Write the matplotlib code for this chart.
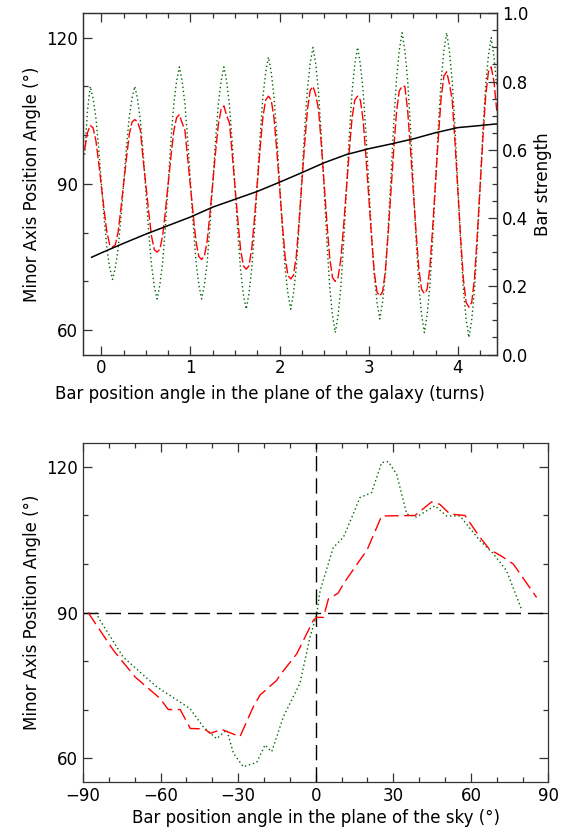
import numpy as np
import matplotlib
matplotlib.use("Agg")
import matplotlib.pyplot as plt
from matplotlib.ticker import MultipleLocator, FuncFormatter

# ---- data: top panel (turns sampled every 1/32 turn) ----
turns = np.arange(-6, 143) / 32.0
pa_red = [97, 100.5,
          102, 101.5, 99, 94.5, 89.5, 84.5, 80, 77.5,
          77, 77.5, 80.1, 84.9, 90.1, 95.3, 100.1, 102.7,
          103.2, 102.7, 101, 95, 89.6, 84.2, 79.3, 76.5,
          76, 76.6, 79.4, 84.5, 90.1, 95.7, 100.8, 103.6,
          104.2, 102.5, 101, 95.3, 89.4, 83.5, 78.1, 75.1,
          74.5, 75.2, 78.3, 84, 90.2, 96.5, 102.2, 105.3,
          106, 104, 102.5, 96, 89.2, 82.6, 76.5, 73.2,
          72.5, 73.2, 76.7, 83.1, 90.2, 97.3, 103.7, 107.2,
          108, 107.2, 103.5, 96.8, 89.2, 81.8, 75, 71.2,
          70.5, 71.3, 75.2, 82.3, 90.2, 98.2, 105.2, 109.2,
          110, 108.2, 105.2, 98, 90, 82, 74.8, 70.8,
          70, 70.8, 74.6, 81.4, 89, 96.6, 103.4, 107.2,
          108, 107.2, 103.1, 95.7, 87.5, 79.3, 71.9, 67.8,
          67, 67.9, 72.2, 79.9, 88.5, 97.1, 104.8, 109.1,
          110, 110, 105, 97.2, 88.8, 80.2, 72.6, 68.4,
          67.5, 68.4, 73, 81.2, 90.2, 99.4, 107.5, 112.1,
          113, 110.5, 107.2, 98.5, 88.8, 79.2, 70.5, 65.7,
          64.7, 65.7, 70.6, 79.5, 89.3, 99.2, 108, 113,
          114, 111, 105]
pa_green = [96, 105,
            110, 107.6, 103.7, 97.5, 90.2, 82.9, 76.7, 72.8,
            70.4, 72.8, 76.7, 82.9, 90.2, 97.5, 103.7, 107.6,
            110, 107.4, 103, 96.3, 88.2, 80.1, 73.4, 69,
            66.4, 69.3, 74, 81.4, 90.2, 99, 106.4, 111.1,
            114, 111.1, 106.4, 99, 90.2, 81.4, 74, 69.3,
            66.4, 69.3, 74, 81.4, 90.2, 99, 106.4, 111.1,
            114, 111.1, 106.1, 98.4, 89.2, 80, 72.3, 67.3,
            64.3, 67.5, 72.6, 80.6, 90.2, 99.8, 107.8, 112.9,
            116, 112.9, 107.8, 99.8, 90.2, 80.6, 72.6, 67.5,
            64.3, 67.6, 72.9, 81.3, 91.2, 101.1, 109.4, 114.8,
            118, 114.5, 108.7, 99.6, 88.8, 78, 68.9, 63,
            59.5, 63, 68.9, 78, 88.8, 99.6, 108.7, 114.5,
            118, 114.6, 109, 100.5, 90.2, 79.9, 71.2, 65.6,
            62.3, 65.8, 71.7, 80.8, 91.6, 102.5, 111.6, 117.5,
            121, 117.3, 111.2, 101.6, 90.2, 78.9, 69.3, 63.2,
            59.5, 63.2, 69.3, 78.9, 90.2, 101.6, 111.2, 117.3,
            121, 117.2, 111, 101.4, 89.8, 78.2, 68.5, 62.2,
            58.5, 62.1, 68.3, 77.8, 89.2, 100.6, 110.2, 116.3,
            120, 116, 110]

bs_turns = [-0.11, 0, 0.25, 0.5, 0.75, 1.0, 1.25, 1.5, 1.75, 2.0,
            2.25, 2.5, 2.75, 3.0, 3.25, 3.5, 3.75, 4.0, 4.25, 4.44]
bar_strength = [0.285, 0.298, 0.326, 0.353, 0.378, 0.403, 0.432, 0.455, 0.478, 0.505,
                0.533, 0.562, 0.586, 0.603, 0.617, 0.632, 0.650, 0.665, 0.671, 0.676]

# ---- data: bottom panel ----
sky_red = [-88, -78.2, -69.8, -60.2, -57, -52.4, -48.5, -43, -40.8, -36.3,
           -29.3, -24.1, -21.5, -15.1, -13.8, -7.3, -0.9, 0.4, 3, 4.9,
           8.7, 10.7, 18.4, 19.7, 25.5, 38.4, 44.8, 48, 51.9, 57.7,
           63.5, 67.4, 71.3, 76.4, 85.4]
pa_sky_red = [90, 82.2, 76.7, 72.3, 70, 70, 66.1, 66, 65.1, 65.9,
              64.4, 70.6, 73, 76, 77.1, 81.5, 88.4, 89, 89, 92.8,
              94, 95.9, 101.8, 102.7, 109.9, 110, 112.8, 112.3, 110.3, 110,
              105.5, 102.9, 101.8, 100, 93.1]

sky_green = [-85, -83.4, -74.4, -61.5, -48.6, -43.4, -38.3, -34.4, -31.8, -28,
             -22.8, -19.6, -17, -12.5, -8.7, -6.1, -2.2, 0.4, 1.7, 6.8,
             10.7, 14.5, 17.1, 21.6, 25.5, 28.1, 31.3, 35.2, 39, 46.1,
             50.6, 55.8, 63.5, 68.7, 73.8, 79.6]
pa_sky_green = [90, 88.4, 80.8, 74.7, 70.2, 66.4, 64, 65.8, 61, 58.2,
                59.1, 62.7, 61.3, 68.5, 72.6, 75.4, 84.9, 89.7, 94.5, 103.4,
                105.5, 110.3, 113.7, 114.7, 120.9, 121.1, 118.5, 110.3, 109.7, 112,
                109.9, 109.9, 104.8, 102.1, 98.6, 90.6]

RED = "#ff0000"
GREEN = "#006400"
FS = 12

plt.rcParams["font.family"] = ["DejaVu Sans"]
plt.rcParams["axes.unicode_minus"] = True

fig = plt.figure(figsize=(5.64, 8.35), dpi=100)

def style_axis(ax):
    for s in ax.spines.values():
        s.set_linewidth(0.9)
        s.set_color("#333333")
    ax.tick_params(which="both", direction="in", labelsize=FS, color="#333333", width=0.9)
    ax.tick_params(which="major", length=6.5)
    ax.tick_params(which="minor", length=3.3)

minus_fmt = FuncFormatter(lambda v, p: f"{v:g}".replace("-", "\u2212"))

# ---- top panel ----
ax1 = fig.add_axes([0.1466, 0.5754, 0.7346, 0.4087])
ax1.plot(turns, pa_green, color=GREEN, lw=1.0, linestyle=(0, (1, 2)))
ax1.plot(turns, pa_red, color=RED, lw=1.0, linestyle=(0, (7, 2)))
ax1.set_xlim(-0.21, 4.44)
ax1.set_ylim(55, 125)
ax1.xaxis.set_major_locator(MultipleLocator(1))
ax1.xaxis.set_minor_locator(MultipleLocator(0.25))
ax1.yaxis.set_major_locator(MultipleLocator(30))
ax1.yaxis.set_minor_locator(MultipleLocator(10))
style_axis(ax1)
ax1.tick_params(which="both", top=True, right=False)
ax1.set_xlabel("Bar position angle in the plane of the galaxy (turns)", fontsize=FS)
ax1.xaxis.set_label_coords(0.452, -0.088)
ax1.set_ylabel("Minor Axis Position Angle (\u00b0)", fontsize=FS, labelpad=4)

ax2 = ax1.twinx()
ax2.plot(bs_turns, bar_strength, color="black", lw=1.1)
ax2.set_ylim(0, 1)
ax2.yaxis.set_major_locator(MultipleLocator(0.2))
ax2.yaxis.set_minor_locator(MultipleLocator(0.05))
ax2.yaxis.set_major_formatter(FuncFormatter(lambda v, p: f"{v:.1f}"))
style_axis(ax2)
ax2.tick_params(which="both", left=False, right=True, top=False, bottom=False)
ax2.set_ylabel("Bar strength", fontsize=FS, labelpad=4)

# ---- bottom panel ----
ax3 = fig.add_axes([0.147, 0.0631, 0.8255, 0.4067])
ax3.axhline(90, color="black", lw=1.0, linestyle=(0, (11, 5)))
ax3.axvline(0, color="black", lw=1.0, linestyle=(0, (11, 5)))
ax3.plot(sky_green, pa_sky_green, color=GREEN, lw=1.0, linestyle=(0, (1, 2)))
ax3.plot(sky_red, pa_sky_red, color=RED, lw=1.0, linestyle=(0, (10, 4)))
ax3.set_xlim(-90, 90)
ax3.set_ylim(55, 125)
ax3.xaxis.set_major_locator(MultipleLocator(30))
ax3.xaxis.set_minor_locator(MultipleLocator(10))
ax3.yaxis.set_major_locator(MultipleLocator(30))
ax3.yaxis.set_minor_locator(MultipleLocator(10))
ax3.xaxis.set_major_formatter(minus_fmt)
style_axis(ax3)
ax3.tick_params(which="both", top=True, right=True)
ax3.set_xlabel("Bar position angle in the plane of the sky (\u00b0)", fontsize=FS, labelpad=3)
ax3.set_ylabel("Minor Axis Position Angle (\u00b0)", fontsize=FS, labelpad=4)

fig.savefig("out.png", dpi=100)
